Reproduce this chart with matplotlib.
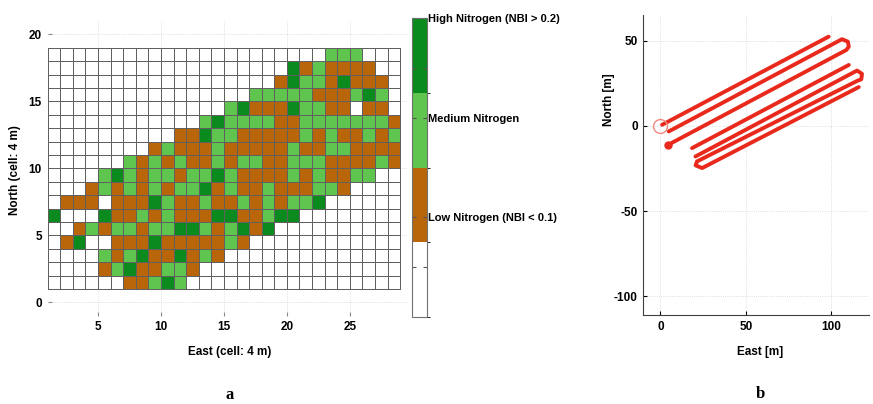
import numpy as np
import matplotlib
matplotlib.use("Agg")
import matplotlib.pyplot as plt
from matplotlib.colors import ListedColormap, BoundaryNorm

plt.rcParams['font.family'] = ['Liberation Sans', 'DejaVu Sans']
plt.rcParams['axes.unicode_minus'] = False

# nitrogen class per 4 m cell, north row 18 first ... row 1 last
# '.' = no data, L = low, M = medium, H = high
grid_rows = [
    "......................MMM...",
    "...................HLMLLLL..",
    "..................LHMMLHLLL.",
    "................MMMMMLLLMHM.",
    "..............MHLLLHMMLL.LL.",
    "............MHMMMMLLMMMMMMML",
    "..........LLHMMLLLLLMLMLLMLM",
    "........LMLLLMLLLLLMLLMMLLLL",
    "......MLMLMLLMLMMLLMMMLLLLML",
    "....MHMLMMLMMHMLLLLMLMLLMM..",
    "...LMLMLMLMMHLMLLMLLLMML....",
    ".LLL.LLLHMLLMLLMLMLMMH......",
    "H...HLLMLMLLLHHLLMHH........",
    "..LMLMMLMMHHMLMHLH..........",
    ".LH..LLLHLLLLLML............",
    "....MLMHLLHLML..............",
    "....LMHLLMML................",
    "......LLMHM.................",
]
class_nbi = {'.': 0.04, 'L': 0.11, 'M': 0.19, 'H': 0.26}
class_colors = ['#ffffff', '#b9660b', '#5fc54f', '#0b8a1d']
class_bounds = [0, 0.075, 0.15, 0.225, 0.3]
cbar_ticks = [0.05, 0.1, 0.2, 0.25, 0.3]
cbar_labels = ['', 'Low Nitrogen (NBI < 0.1)', 'Medium Nitrogen', '',
               'High Nitrogen (NBI > 0.2)']

# GPS track of the survey vehicle (east, north in m), one list per run
track_runs = [
    ([1.0, 98.4], [0.6, 52.3]),
    ([4.9, 106.2, 109.6, 110.2, 108.8, 3.9], [-3.3, 50.8, 49.4, 46.5, 44.5, -11.5]),
    ([18.5, 110.2], [-13.1, 35.7]),
    ([20.5, 115.0, 117.9, 117.5, 115.4, 21.4, 20.6, 24.4, 116.0],
     [-18.0, 32.4, 30.5, 27.3, 26.5, -20.9, -23.2, -24.8, 22.7]),
]
track_start = (0.0, 0.0)
track_blob = (4.2, -11.0)

W, H = 873, 404
fig = plt.figure(figsize=(W / 100, H / 100), dpi=100)

def box(x0, y0, x1, y1):
    return [x0 / W, 1 - y1 / H, (x1 - x0) / W, (y1 - y0) / H]

# ---- a : nitrogen map ----
ax = fig.add_axes(box(47.5, 21, 406.6, 315.7))
z = np.array([[class_nbi[c] for c in row] for row in grid_rows[::-1]])
xe = np.arange(1, z.shape[1] + 2)
ye = np.arange(1, z.shape[0] + 2)
cmap = ListedColormap(class_colors)
norm = BoundaryNorm(class_bounds, cmap.N)
mesh = ax.pcolormesh(xe, ye, z, cmap=cmap, norm=norm,
                     edgecolors='#606060', linewidth=0.7)
ax.set_xlim(1, 29.5)
ax.set_ylim(-1, 21)
ax.set_xticks([5, 10, 15, 20, 25])
ax.set_yticks([0, 5, 10, 15, 20])
ax.set_axisbelow(True)
ax.grid(True, color='#d4d4d4', lw=0.6, ls=':')
for s in ax.spines.values():
    s.set_visible(False)
ax.tick_params(direction='in', length=3, color='#8a8a8a', labelsize=8.5, pad=4)
for t in ax.get_xticklabels() + ax.get_yticklabels():
    t.set_fontweight('bold')
fig.text(15 / W, 1 - 170 / H, 'North (cell: 4 m)', rotation=90, ha='center',
         va='center', fontsize=8.5, fontweight='bold')
fig.text(230 / W, 1 - 352 / H, 'East (cell: 4 m)', ha='center', va='center',
         fontsize=8.5, fontweight='bold')

cax = fig.add_axes(box(412, 18, 427, 317))
cb = fig.colorbar(mesh, cax=cax, ticks=cbar_ticks, spacing='proportional')
cb.ax.set_yticklabels(cbar_labels, fontsize=8, fontweight='bold')
cb.outline.set_edgecolor('#707070')
cb.outline.set_linewidth(0.8)
cax.tick_params(direction='in', length=3, left=True, right=True, pad=1,
                color='#555555')

fig.text(230 / W, 1 - 395 / H, 'a', ha='center', va='center', fontsize=12,
         fontweight='bold', family='Liberation Serif')

# ---- b : GPS track ----
bx = fig.add_axes(box(643.3, 15, 869, 315))
for east, north in track_runs:
    bx.plot(east, north, color='#e8291c', lw=2.8, solid_capstyle='round',
            solid_joinstyle='round')
bx.plot(*track_blob, 'o', color='#e8291c', ms=5)
bx.plot(*track_start, 'o', ms=10, mfc='none', mec='#f28a80', mew=1.0)
bx.set_xlim(-10, 122)
bx.set_ylim(-111, 65)
bx.set_xticks([0, 50, 100])
bx.set_yticks([-100, -50, 0, 50])
bx.grid(True, color='#d4d4d4', lw=0.6, ls=':')
bx.spines['top'].set_visible(False)
bx.spines['right'].set_visible(False)
bx.spines['left'].set_color('#404040')
bx.spines['bottom'].set_color('#404040')
bx.tick_params(direction='in', length=3, labelsize=8.5, pad=4)
for t in bx.get_xticklabels() + bx.get_yticklabels():
    t.set_fontweight('bold')
fig.text(609 / W, 1 - 100 / H, 'North [m]', rotation=90, ha='center',
         va='center', fontsize=8.5, fontweight='bold')
fig.text(760 / W, 1 - 352 / H, 'East [m]', ha='center', va='center',
         fontsize=8.5, fontweight='bold')
fig.text(760 / W, 1 - 394 / H, 'b', ha='center', va='center', fontsize=12,
         fontweight='bold', family='Liberation Serif')

fig.savefig('out.png', dpi=100)
